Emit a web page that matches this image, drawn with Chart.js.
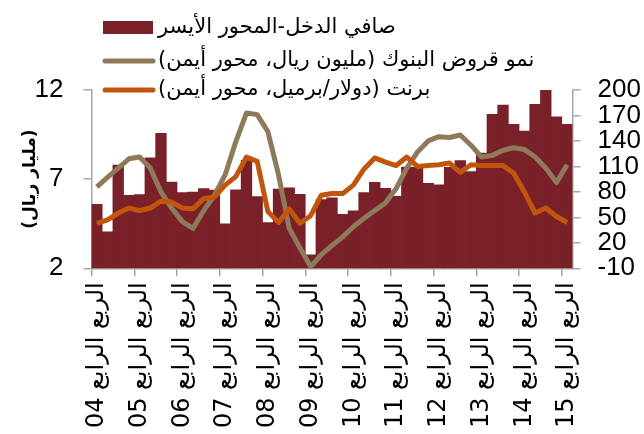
<!DOCTYPE html>
<html lang="ar">
<head>
<meta charset="utf-8">
<script src="https://cdn.jsdelivr.net/npm/chart.js@4.4.1/dist/chart.umd.min.js"></script>
<style>
  html, body { margin: 0; padding: 0; background: #fff; }
  #wrap { width: 644px; height: 434px; position: relative; }
</style>
</head>
<body>
<div id="wrap"><canvas id="chart" width="644" height="434"></canvas></div>
<script>
// quarterly series, Q4 2004 .. Q4 2015
const years = ['04', '05', '06', '07', '08', '09', '10', '11', '12', '13', '14', '15'];

const netIncome = [
    5.59, 4.05, 7.79, 6.09, 6.13, 8.2, 9.57, 6.84, 6.24, 6.28,
    6.47, 6.38, 4.5, 6.4, 8.05, 6.02, 4.57, 6.45, 6.52, 6.15,
    2.75, 5.85, 5.95, 5.03, 5.23, 6.24, 6.82, 6.49, 6.04, 7.67,
    7.66, 6.76, 6.68, 7.66, 8.04, 7.42, 8.46, 10.64, 11.16, 10.08,
    9.7, 11.2, 12.0, 10.5, 10.08
];
const loanGrowth = [
    86, 97, 108, 119, 121, 108, 80, 61, 45, 37,
    58, 76, 100, 139, 173, 171, 151, 100, 37, 14,
    -8, 6, 17, 27, 39, 49, 58, 67, 84, 108,
    127, 140, 145, 144, 147, 135, 121, 123, 129, 132,
    130, 121, 108, 91, 112
];
const brent = [
    43, 47, 55, 61, 58, 61, 69, 68, 61, 60,
    72, 74, 88, 98, 121, 116, 57, 44, 60, 43,
    52, 76, 78, 78, 88, 107, 120, 115, 111, 121,
    110, 111, 112, 114, 103, 112, 111, 111, 111, 102,
    80, 55, 61, 51, 44
];

const seriesNames = [
    'صافي الدخل-المحور الأيسر',
    'نمو قروض البنوك (مليون ريال، محور أيمن)',
    'برنت (دولار/برميل، محور أيمن)'
];
const leftTitle = '(مليار ريال)';

const categories = [];
years.forEach((yr, k) => {
    if (k > 0) {
        ['الربع الأول', 'الربع الثاني', 'الربع الثالث'].forEach(q => categories.push(q + ' ' + yr));
    }
    categories.push('الربع الرابع ' + yr);
});

const axisGray = '#a6a6a6';
const digitFont = '"Liberation Sans", Arial, sans-serif';
const arabicFont = '"DejaVu Sans", sans-serif';

// legend sits on top of the plot, swatch on the left, rtl text after it
const overlayLegend = {
    id: 'overlayLegend',
    afterDraw(chart) {
        const ctx = chart.ctx;
        const rows = [28, 61, 90];
        ctx.save();
        ctx.font = '21px ' + arabicFont;
        ctx.direction = 'rtl';
        ctx.textAlign = 'left';
        ctx.textBaseline = 'middle';
        chart.data.datasets.forEach((ds, i) => {
            const y = rows[i];
            if (ds.type === 'bar') {
                ctx.fillStyle = ds.backgroundColor;
                ctx.fillRect(103, y - 7, 50, 13);
            } else {
                ctx.strokeStyle = ds.borderColor;
                ctx.lineWidth = 5;
                ctx.lineCap = 'round';
                ctx.beginPath();
                ctx.moveTo(105, y);
                ctx.lineTo(153, y);
                ctx.stroke();
            }
            ctx.fillStyle = '#000';
            ctx.fillText(ds.label, 158, y);
        });
        ctx.restore();
    }
};

const ctx = document.getElementById('chart');
new Chart(ctx, {
    data: {
        labels: categories,
        datasets: [
            {
                type: 'bar',
                label: seriesNames[0],
                data: netIncome,
                yAxisID: 'y',
                backgroundColor: '#7a2029',
                barPercentage: 1,
                categoryPercentage: 1,
                order: 3
            },
            {
                type: 'line',
                label: seriesNames[1],
                data: loanGrowth,
                yAxisID: 'y1',
                borderColor: '#8e7a5a',
                borderWidth: 5,
                pointRadius: 0,
                tension: 0,
                borderJoinStyle: 'round',
                order: 2
            },
            {
                type: 'line',
                label: seriesNames[2],
                data: brent,
                yAxisID: 'y1',
                borderColor: '#c0560c',
                borderWidth: 5,
                pointRadius: 0,
                tension: 0,
                borderJoinStyle: 'round',
                order: 1
            }
        ]
    },
    options: {
        responsive: false,
        animation: false,
        layout: { padding: { top: 90, left: 0, right: 0, bottom: 0 } },
        plugins: {
            legend: { display: false },
            tooltip: { enabled: false }
        },
        scales: {
            x: {
                offset: true,
                grid: {
                    offset: true,
                    drawOnChartArea: false,
                    tickLength: 8,
                    color: c => (c.index % 4 === 0 ? axisGray : 'rgba(0,0,0,0)'),
                    tickColor: c => (c.index % 4 === 0 ? axisGray : 'rgba(0,0,0,0)'),
                    lineWidth: 1.5
                },
                border: { color: axisGray, width: 1.5 },
                ticks: {
                    autoSkip: false,
                    minRotation: 90,
                    maxRotation: 90,
                    padding: 6,
                    color: '#000',
                    font: { family: arabicFont, size: 24 },
                    callback: function (val, i) {
                        return i % 4 === 0 ? this.getLabelForValue(val) : '';
                    }
                },
                afterFit: s => { s.height = 165.7; }
            },
            y: {
                position: 'left',
                min: 2,
                max: 12,
                grid: { drawOnChartArea: false, tickLength: 8, color: axisGray, lineWidth: 1.5 },
                border: { color: axisGray, width: 1.5 },
                ticks: {
                    stepSize: 5,
                    autoSkip: false,
                    padding: 20,
                    color: '#000',
                    font: { family: digitFont, size: 26 }
                },
                title: {
                    display: true,
                    text: leftTitle,
                    color: '#000',
                    font: { family: arabicFont, size: 17, weight: 'bold' },
                    padding: { top: 20, bottom: 0 }
                },
                afterFit: s => { s.width = 91.5; }
            },
            y1: {
                position: 'right',
                min: -10,
                max: 200,
                grid: { drawOnChartArea: false, tickLength: 8, color: axisGray, lineWidth: 1.5 },
                border: { color: axisGray, width: 1.5 },
                ticks: {
                    stepSize: 30,
                    autoSkip: false,
                    padding: 17,
                    color: '#000',
                    font: { family: digitFont, size: 26 }
                },
                afterFit: s => { s.width = 71.5; }
            }
        }
    },
    plugins: [overlayLegend]
});
</script>
</body>
</html>
